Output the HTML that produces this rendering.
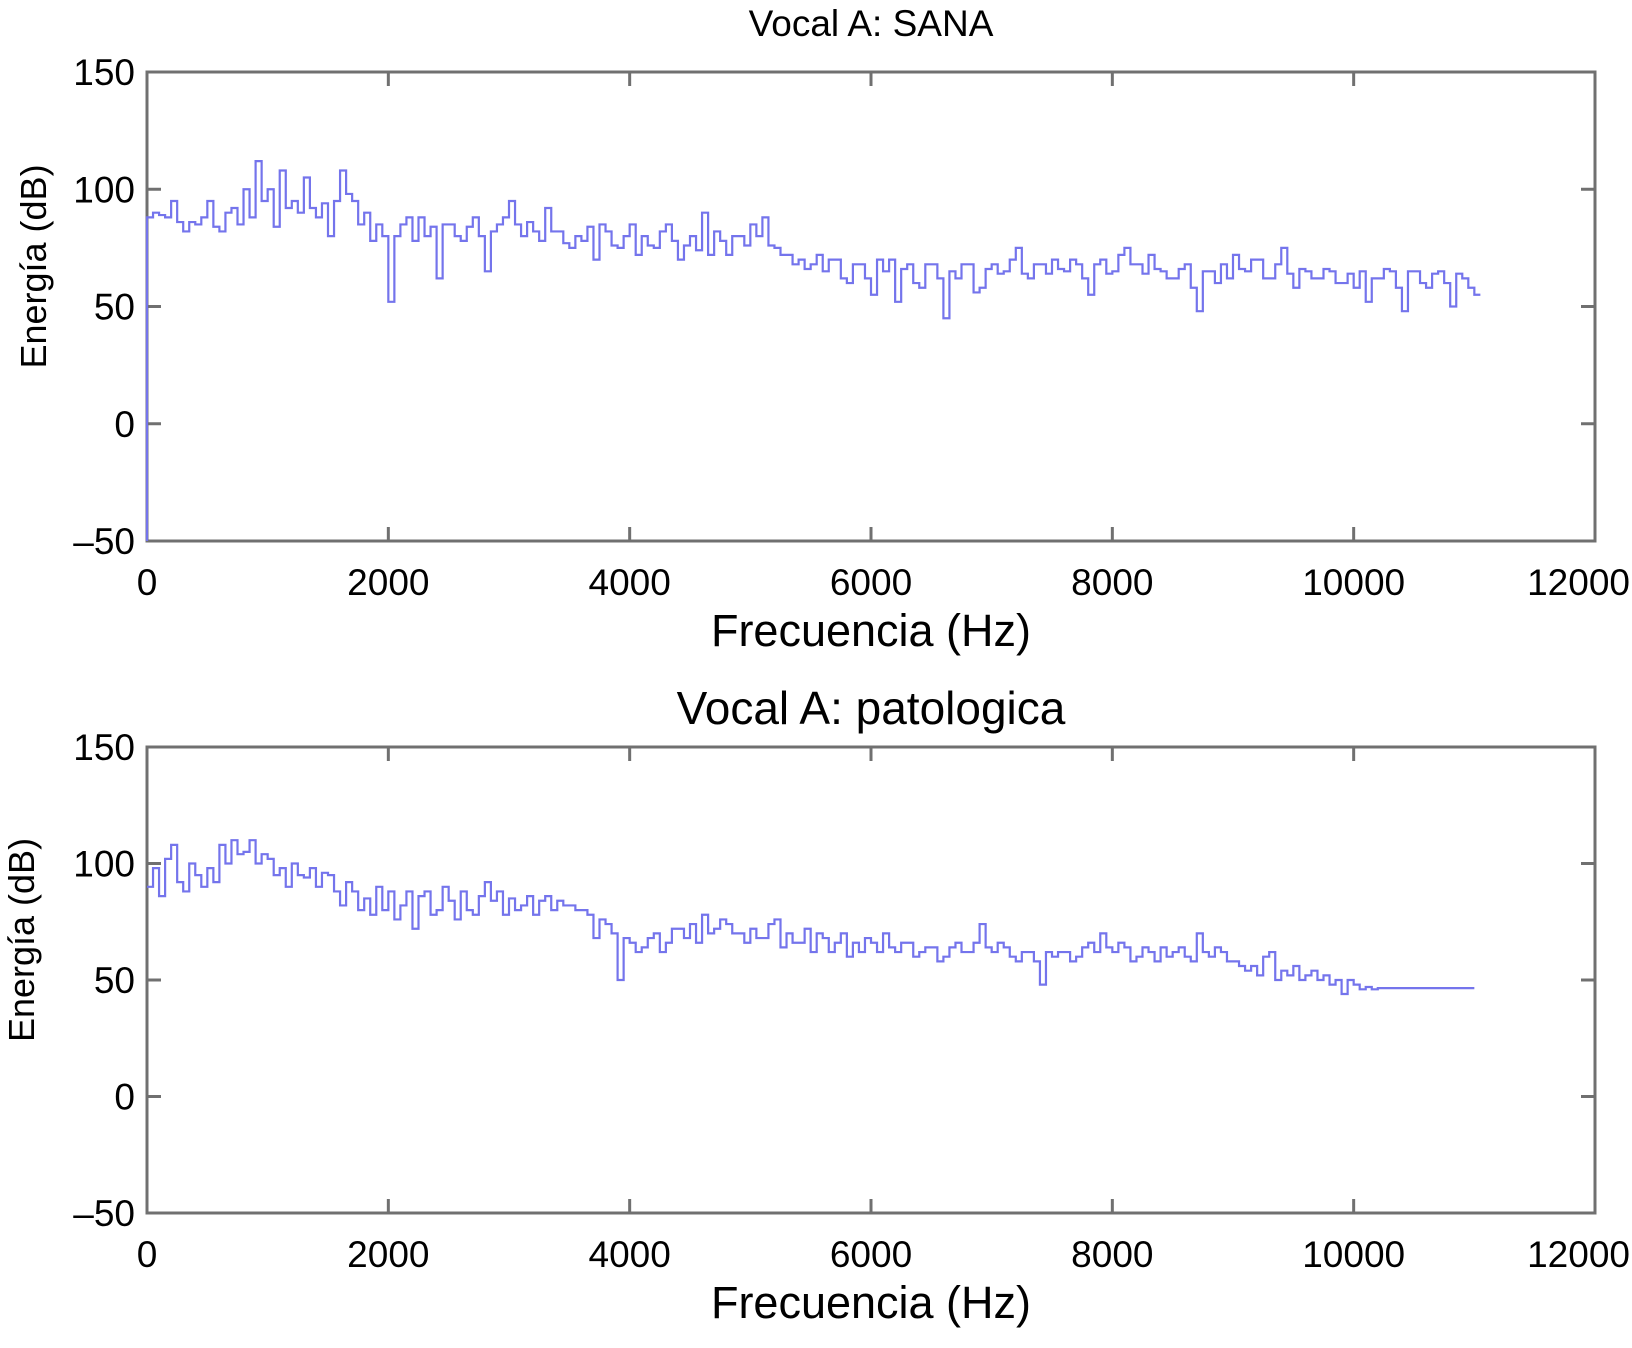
<!DOCTYPE html>
<html><head><meta charset="utf-8">
<style>
html,body{margin:0;padding:0;background:#fff;}
svg{display:block;font-family:"Liberation Sans",Arial,sans-serif;}
</style></head>
<body>
<svg id="chart" width="1632" height="1348" viewBox="0 0 1632 1348" xmlns="http://www.w3.org/2000/svg"></svg>
<script>
const xTicks = [0,2000,4000,6000,8000,10000,12000];
const yTicks = [-50,0,50,100,150];
const freqStep = 50;
const sanaValues = [-50,88,90,89,88,95,86,82,86,85,88,95,84,82,90,92,85,100,88,112,95,100,84,108,92,95,90,105,92,88,94,80,95,108,98,95,85,90,78,85,80,52,80,85,88,78,88,80,84,62,85,85,80,78,84,88,80,65,82,85,88,95,85,80,86,82,78,92,82,82,77,75,80,78,84,70,85,82,76,75,80,85,72,80,76,75,82,85,78,70,76,80,74,90,72,82,78,72,80,80,76,85,80,88,76,75,72,72,68,70,66,68,72,65,70,70,62,60,68,68,62,55,70,65,70,52,66,68,60,58,68,68,62,45,65,62,68,68,56,58,66,68,64,65,70,75,64,62,68,68,64,70,66,65,70,68,62,55,68,70,64,65,72,75,68,68,64,72,66,65,62,62,66,68,58,48,65,65,60,68,62,72,66,65,70,70,62,62,68,75,64,58,66,65,62,62,66,65,60,60,64,58,65,52,62,62,66,65,58,48,65,65,60,58,64,65,60,50,64,62,58,55];
const patoValues = [90,98,86,102,108,92,88,100,95,90,98,92,108,100,110,104,105,110,100,104,102,95,98,90,100,95,94,98,90,96,95,88,82,92,88,80,85,78,90,80,88,76,82,88,72,86,88,78,80,90,84,76,88,80,78,86,92,84,88,78,85,80,82,86,78,84,86,80,84,82,82,80,80,78,68,76,74,70,50,68,66,62,64,68,70,62,66,72,72,68,74,66,78,70,72,76,74,70,70,66,72,68,68,74,76,64,70,66,66,72,62,70,68,62,66,70,60,66,62,68,66,62,70,64,62,66,66,60,62,64,64,58,60,64,66,62,62,66,74,64,62,66,64,60,58,62,62,58,48,62,60,62,62,58,60,64,66,62,70,64,62,66,64,58,60,64,62,58,64,60,62,64,60,58,70,62,60,64,62,58,58,56,54,56,52,60,62,50,54,52,56,50,52,54,50,52,48,50,44,50,48,46,47,46,46.5,46.5,46.5,46.5,46.5,46.5,46.5,46.5,46.5,46.5,46.5,46.5,46.5,46.5,46.5,46.5];

const NS="http://www.w3.org/2000/svg";
const svg=document.getElementById('chart');
function mk(tag,attrs,parent){const e=document.createElementNS(NS,tag);for(const k in attrs)e.setAttribute(k,attrs[k]);(parent||svg).appendChild(e);return e;}

function panel(top,bottom,title,titleY,titleSize,values,zeroStart,name){
  const L=147,R=1595;
  const g=mk('g',{});
  
  
  const xs=f=>L+(f/12000)*(R-L);
  const ys=v=>bottom-(v+50)/200*(bottom-top);
  const t=mk('text',{x:871,y:titleY,'font-size':titleSize,'text-anchor':'middle',fill:'#000'},g);
  t.textContent=title;
  
  
  const fr=mk('rect',{x:L,y:top,width:R-L,height:bottom-top,fill:'none',stroke:'#707070','stroke-width':3},g);
  
  
  xTicks.forEach(tv=>{
    const x=xs(tv);
    mk('line',{x1:x,x2:x,y1:bottom,y2:bottom-14,stroke:'#707070','stroke-width':3},g);
    mk('line',{x1:x,x2:x,y1:top,y2:top+14,stroke:'#707070','stroke-width':3},g);
    const last=tv===xTicks[xTicks.length-1];
    const lb=mk('text',{x:last?1630:x,y:bottom+54,'font-size':37,'text-anchor':last?'end':'middle',fill:'#000'},g);
    lb.textContent=String(tv);
    
    
  });
  yTicks.forEach(tv=>{
    const y=ys(tv);
    mk('line',{x1:L,x2:L+14,y1:y,y2:y,stroke:'#707070','stroke-width':3},g);
    mk('line',{x1:R,x2:R-14,y1:y,y2:y,stroke:'#707070','stroke-width':3},g);
    const lb=mk('text',{x:L-12,y:y+13,'font-size':37,'text-anchor':'end',fill:'#000'},g);
    lb.textContent=tv<0?'\u2013'+Math.abs(tv):String(tv);
    
    
  });
  let d='';
  values.forEach((v,i)=>{
    let f0,f1;
    if(zeroStart){ f0=i===0?0:(i-1)*freqStep; f1=i===0?0:i*freqStep; }
    else { f0=i*freqStep; f1=(i+1)*freqStep; }
    const y=ys(v);
    if(i===0) d+='M'+xs(f0)+','+y; else d+='V'+y;
    d+='H'+xs(f1);
  });
  const p=mk('path',{d:d,fill:'none',stroke:'#7474ec','stroke-width':2.2},g);
  
  
  const xl=mk('text',{x:871,y:bottom+105,'font-size':45,'text-anchor':'middle',fill:'#000'},g);
  xl.textContent='Frecuencia (Hz)';
  
  
  const cy=(top+bottom)/2-40;
  const yl=mk('text',{x:0,y:0,'font-size':36,'text-anchor':'middle',fill:'#000',transform:'translate('+(name==='sana'?46:34)+','+cy+') rotate(-90)'},g);
  yl.textContent='Energía (dB)';
  
  
}
panel(72,541,'Vocal A: SANA',36,37,sanaValues,true,'sana');
panel(747,1213,'Vocal A: patologica',724,46,patoValues,false,'patologica');
</script>
</body></html>
